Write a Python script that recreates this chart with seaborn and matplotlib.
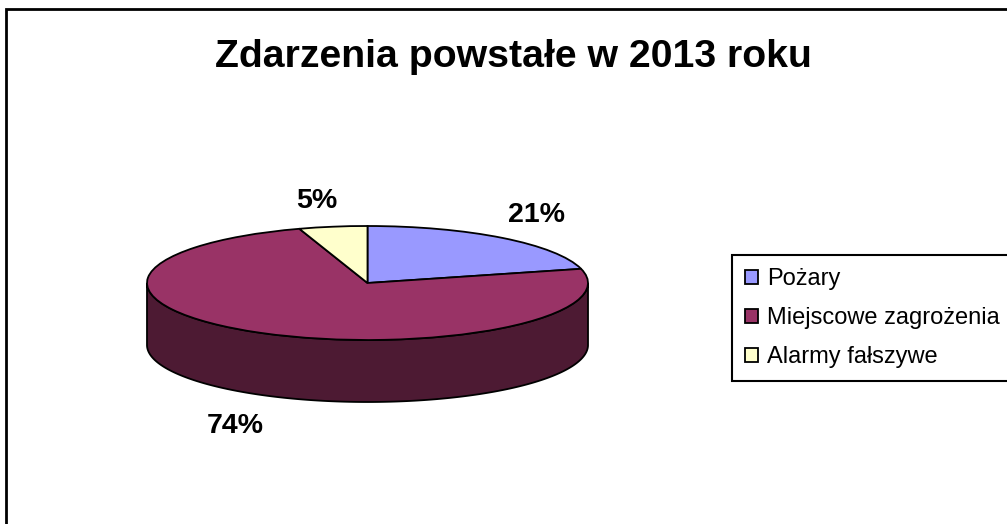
import numpy as np
import matplotlib
matplotlib.use("Agg")
import matplotlib.pyplot as plt
import matplotlib.colors as mcolors
from matplotlib.patches import Rectangle
import seaborn as sns

# data
categories = ["Pożary", "Miejscowe zagrożenia", "Alarmy fałszywe"]
shares = [21, 74, 5]
colors = ["#9999FF", "#993366", "#FFFFCC"]
title = "Zdarzenia powstałe w 2013 roku"

sns.set_theme(style="white")
plt.rcParams["font.family"] = ["Liberation Sans", "DejaVu Sans"]

W, H = 1007, 524
fig = plt.figure(figsize=(W / 100, H / 100), dpi=100)
ax = fig.add_axes([0, 0, 1, 1])

# pixel geometry of the flattened pie
cx, cy, rx, ry, depth_px = 367.5, 283.0, 220.5, 57.0, 62.0
depth = depth_px / ry

palette = sns.color_palette(colors)
wedges, _ = ax.pie(shares, colors=palette, startangle=90, counterclock=False,
                   wedgeprops=dict(edgecolor="black", linewidth=1.3), frame=False)
for w in wedges:
    w.set_zorder(3)

# side walls of the "3D" pie (front half only), darker shade of each slice
for w, c in zip(wedges, palette):
    ang = np.linspace(w.theta1, w.theta2, 600)
    rad = np.deg2rad(ang)
    front = np.sin(rad) <= 0
    if front.sum() < 2:
        continue
    a = rad[front]
    xs = np.cos(a)
    ys = np.sin(a)
    px = np.concatenate([xs, xs[::-1]])
    py = np.concatenate([ys, ys[::-1] - depth])
    dark = tuple(np.array(mcolors.to_rgb(c)) * 0.5)
    ax.fill(px, py, facecolor=dark, edgecolor="black", linewidth=1.3, zorder=2)

ax.set_aspect("auto")
ax.set_xlim(-cx / rx, (W - cx) / rx)
ax.set_ylim(-(H - cy) / ry, cy / ry)
ax.axis("off")

# percentage labels (baseline positions in pie units)
label_pos = [(0.766, 1.07), (-0.601, -2.63), (-0.229, 1.316)]
for (lx, ly), v in zip(label_pos, shares):
    ax.text(lx, ly, f"{v}%", ha="center", va="baseline", fontsize=20.5,
            fontweight="bold", color="black", zorder=5)

fig.text(513.5 / W, 1 - 67 / H, title, ha="center", va="baseline",
         fontsize=28.3, fontweight="bold", color="black")

leg = fig.legend(wedges, categories, loc="upper left",
                 bbox_to_anchor=(732 / W, 1 - 255 / H), borderaxespad=0,
                 fontsize=17, frameon=True, fancybox=False, framealpha=1,
                 edgecolor="black", handlelength=0.55, handleheight=0.55,
                 handletextpad=0.4, labelspacing=0.72, borderpad=0.55)
leg.get_frame().set_linewidth(1.5)
for t in leg.get_texts():
    t.set_color("black")

# chart border (only top and left visible in the crop)
fig.patches.append(Rectangle((6 / W, -0.05), 1.1, 1 - 9 / H + 0.05,
                             transform=fig.transFigure, fill=False,
                             edgecolor="black", linewidth=2))

fig.savefig("out.png", dpi=100, facecolor="white")
